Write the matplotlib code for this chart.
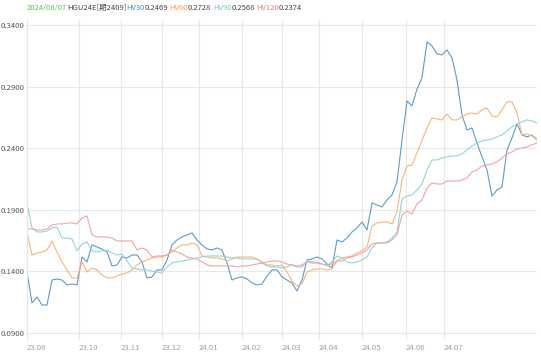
import matplotlib
matplotlib.use("Agg")
import matplotlib.pyplot as plt
import numpy as np

plt.rcParams['font.family'] = ['Noto Sans CJK SC', 'DejaVu Sans']

# ---- data ----
hv30 = [0.1395, 0.1144, 0.1192, 0.1127, 0.1127, 0.1330, 0.1338, 0.1330, 0.1290, 0.1298,
        0.1290, 0.1517, 0.1477, 0.1615, 0.1598, 0.1582, 0.1558, 0.1444, 0.1452, 0.1517,
        0.1509, 0.1533, 0.1533, 0.1477, 0.1347, 0.1355, 0.1412, 0.1412, 0.1493, 0.1615,
        0.1655, 0.1680, 0.1696, 0.1712, 0.1655, 0.1615, 0.1582, 0.1574, 0.1590, 0.1574,
        0.1468, 0.1330, 0.1347, 0.1355, 0.1338, 0.1306, 0.1290, 0.1298, 0.1363, 0.1412,
        0.1412, 0.1355, 0.1330, 0.1306, 0.1241, 0.1330, 0.1493, 0.1501, 0.1517, 0.1501,
        0.1460, 0.1428, 0.1655, 0.1639, 0.1671, 0.1720, 0.1753, 0.1801, 0.1736, 0.1956,
        0.1939, 0.1923, 0.1980, 0.2021, 0.2126, 0.2467, 0.2784, 0.2743, 0.2881, 0.2971,
        0.3263, 0.3230, 0.3166, 0.3158, 0.3198, 0.3133, 0.2954, 0.2670, 0.2548, 0.2564,
        0.2443, 0.2329, 0.2224, 0.2012, 0.2061, 0.2086, 0.2386, 0.2483, 0.2597, 0.2508,
        0.2492, 0.2508, 0.2469]
hv60 = [0.1712, 0.1533, 0.1550, 0.1558, 0.1574, 0.1647, 0.1558, 0.1477, 0.1412, 0.1347,
        0.1347, 0.1477, 0.1395, 0.1428, 0.1412, 0.1371, 0.1347, 0.1347, 0.1363, 0.1379,
        0.1387, 0.1412, 0.1452, 0.1477, 0.1493, 0.1509, 0.1517, 0.1517, 0.1533, 0.1558,
        0.1590, 0.1615, 0.1615, 0.1631, 0.1615, 0.1525, 0.1517, 0.1509, 0.1509, 0.1501,
        0.1485, 0.1501, 0.1517, 0.1517, 0.1517, 0.1517, 0.1501, 0.1477, 0.1452, 0.1452,
        0.1444, 0.1452, 0.1395, 0.1322, 0.1282, 0.1298, 0.1395, 0.1412, 0.1420, 0.1420,
        0.1412, 0.1420, 0.1485, 0.1509, 0.1517, 0.1525, 0.1550, 0.1566, 0.1598, 0.1769,
        0.1793, 0.1801, 0.1801, 0.1785, 0.1883, 0.2142, 0.2256, 0.2264, 0.2362, 0.2467,
        0.2565, 0.2646, 0.2638, 0.2630, 0.2678, 0.2630, 0.2630, 0.2654, 0.2678, 0.2686,
        0.2678, 0.2711, 0.2727, 0.2662, 0.2654, 0.2711, 0.2776, 0.2776, 0.2686, 0.2508,
        0.2516, 0.2500, 0.2467]
hv90 = [0.1948, 0.1753, 0.1720, 0.1720, 0.1728, 0.1753, 0.1761, 0.1671, 0.1671, 0.1663,
        0.1566, 0.1623, 0.1639, 0.1566, 0.1558, 0.1566, 0.1574, 0.1550, 0.1533, 0.1541,
        0.1485, 0.1428, 0.1420, 0.1412, 0.1412, 0.1403, 0.1395, 0.1387, 0.1436, 0.1468,
        0.1477, 0.1485, 0.1493, 0.1501, 0.1509, 0.1517, 0.1525, 0.1525, 0.1525, 0.1525,
        0.1517, 0.1509, 0.1509, 0.1501, 0.1501, 0.1501, 0.1501, 0.1468, 0.1444, 0.1436,
        0.1436, 0.1428, 0.1436, 0.1452, 0.1436, 0.1436, 0.1485, 0.1477, 0.1477, 0.1460,
        0.1444, 0.1477, 0.1525, 0.1509, 0.1477, 0.1468, 0.1477, 0.1493, 0.1517, 0.1590,
        0.1631, 0.1631, 0.1639, 0.1671, 0.1720, 0.1988, 0.2012, 0.2021, 0.2061, 0.2110,
        0.2224, 0.2305, 0.2305, 0.2321, 0.2329, 0.2337, 0.2337, 0.2354, 0.2386, 0.2418,
        0.2443, 0.2459, 0.2467, 0.2475, 0.2492, 0.2508, 0.2540, 0.2573, 0.2597, 0.2613,
        0.2630, 0.2621, 0.2605]
hv120 = [0.1745, 0.1745, 0.1736, 0.1736, 0.1745, 0.1777, 0.1785, 0.1785, 0.1793, 0.1793,
         0.1785, 0.1834, 0.1850, 0.1696, 0.1680, 0.1680, 0.1680, 0.1671, 0.1647, 0.1647,
         0.1647, 0.1647, 0.1574, 0.1590, 0.1574, 0.1517, 0.1525, 0.1525, 0.1533, 0.1574,
         0.1558, 0.1541, 0.1517, 0.1509, 0.1501, 0.1477, 0.1452, 0.1444, 0.1444, 0.1444,
         0.1444, 0.1444, 0.1436, 0.1444, 0.1444, 0.1452, 0.1460, 0.1468, 0.1477, 0.1485,
         0.1485, 0.1477, 0.1460, 0.1452, 0.1444, 0.1452, 0.1477, 0.1468, 0.1468, 0.1460,
         0.1452, 0.1460, 0.1485, 0.1485, 0.1509, 0.1517, 0.1533, 0.1550, 0.1574, 0.1623,
         0.1631, 0.1631, 0.1631, 0.1655, 0.1696, 0.1858, 0.1890, 0.1866, 0.1947, 0.1980,
         0.2077, 0.2118, 0.2110, 0.2110, 0.2134, 0.2134, 0.2134, 0.2142, 0.2159, 0.2207,
         0.2224, 0.2256, 0.2264, 0.2272, 0.2289, 0.2321, 0.2354, 0.2370, 0.2394, 0.2402,
         0.2410, 0.2427, 0.2443]

month_labels = ['23.08', '23.10', '23.11', '23.12', '24.01', '24.02', '24.03',
                '24.04', '24.05', '24.06', '24.07']
month_pos = [0, 10.4, 18.8, 27.0, 34.4, 43.0, 51.0, 58.4, 67.0, 75.8, 83.4]
y_ticks = [0.09, 0.14, 0.19, 0.24, 0.29, 0.34]

header = [('2024/08/07', '#5cc45c'), ('HGU24E[期2409]', '#444444'),
          ('HV30', '#4a90c8'), ('0.2469', '#444444'),
          ('HV60', '#f5a04e'), ('0.2728', '#444444'),
          ('HV90', '#6ccad0'), ('0.2568', '#444444'),
          ('HV120', '#ef7f7f'), ('0.2374', '#444444')]

series = [(hv30, '#5d9cc9'), (hv60, '#f8b57a'), (hv90, '#92d5d8'), (hv120, '#f2a3a3')]

# ---- figure ----
W, H = 541, 360
fig = plt.figure(figsize=(W / 100, H / 100), dpi=100)
ax = fig.add_axes([27 / W, 20 / H, 510 / W, 320 / H])
n = len(hv30)
x = np.arange(n)
for vals, col in series:
    ax.plot(x, vals, color=col, lw=0.8, solid_joinstyle='round')

ax.set_xlim(0, n - 1)
ax.set_ylim(0.0843, 0.3441)

for s in ['top', 'right', 'bottom']:
    ax.spines[s].set_visible(False)
ax.spines['left'].set_color('#e6e6e6')
ax.spines['left'].set_linewidth(0.8)

ax.set_yticks(y_ticks)
ax.set_yticklabels([f'{v:.4f}' for v in y_ticks], fontsize=5.6, color='#555555')
ax.tick_params(axis='y', length=0, pad=2)
ax.set_xticks(month_pos)
ax.set_xticklabels(month_labels, fontsize=5.6, color='#a0a0a0', ha='left')
ax.tick_params(axis='x', length=0, pad=3)
ax.grid(True, color='#e8e8e8', lw=0.8)
ax.set_axisbelow(True)

fig.canvas.draw()
r = fig.canvas.get_renderer()
xp = 27.0
for i, (s, c) in enumerate(header):
    t = fig.text(xp / W, 1 - 8 / H, s, color=c, fontsize=5.5, va='center', ha='left')
    bb = t.get_window_extent(r)
    xp += bb.width
    if i >= 3 and i % 2 == 1:
        xp += 1.5

fig.savefig('out.png', dpi=100)
